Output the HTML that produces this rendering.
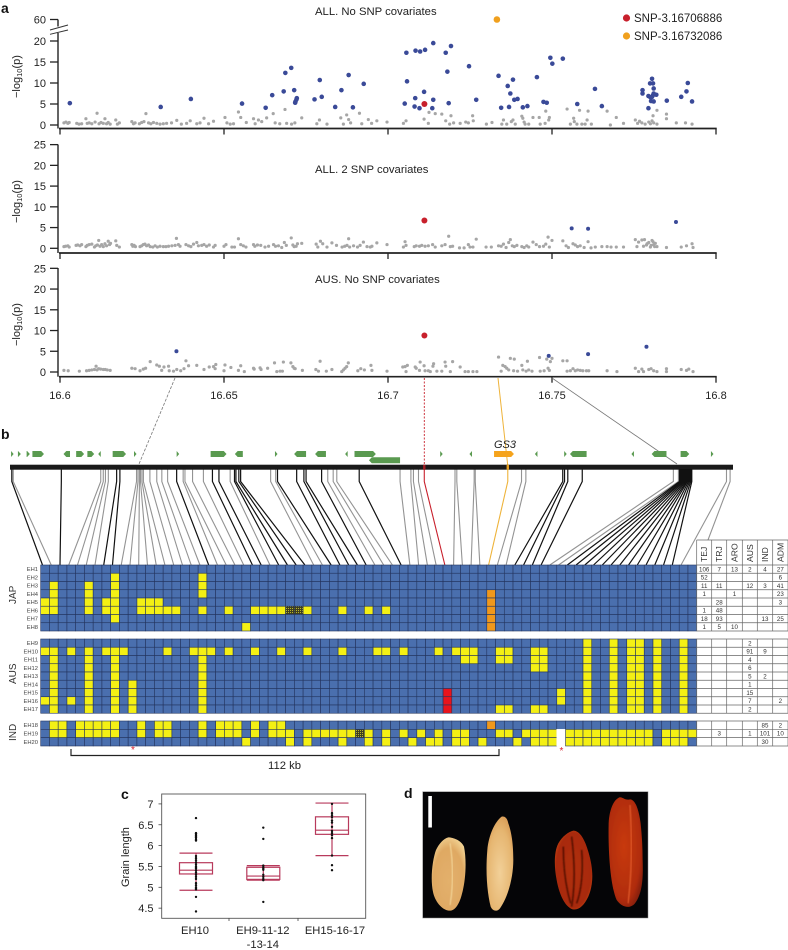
<!DOCTYPE html>
<html lang="en">
<head>
<meta charset="utf-8">
<title>GWAS haplotype figure</title>
<style>
html,body{margin:0;padding:0;background:#fff;}
#figure{display:block;width:788px;height:950px;font-family:"Liberation Sans",sans-serif;filter:blur(.3px);}
text{font-family:"Liberation Sans",sans-serif;fill:#222;}
</style>
</head>
<body>
<svg id="figure" xmlns="http://www.w3.org/2000/svg" width="788" height="950" viewBox="0 0 788 950">
<defs>
<pattern id="hatch" width="2" height="2" patternUnits="userSpaceOnUse"><rect width="2" height="2" fill="#3f3f1e"/><rect width="1" height="1" fill="#b9b52a"/></pattern>
<radialGradient id="paleA" cx="50%" cy="60%" r="65%"><stop offset="0" stop-color="#e3b06c"/><stop offset=".7" stop-color="#dfa963"/><stop offset="1" stop-color="#f3d596"/></radialGradient>
<radialGradient id="paleB" cx="50%" cy="60%" r="65%"><stop offset="0" stop-color="#f2d098"/><stop offset=".7" stop-color="#e6b671"/><stop offset="1" stop-color="#d89a54"/></radialGradient>
<radialGradient id="redA" cx="50%" cy="50%" r="62%"><stop offset="0" stop-color="#b0300e"/><stop offset=".75" stop-color="#a82a0c"/><stop offset="1" stop-color="#cf4c1a"/></radialGradient>
<radialGradient id="redB" cx="45%" cy="45%" r="65%"><stop offset="0" stop-color="#c83a10"/><stop offset=".75" stop-color="#b02c0a"/><stop offset="1" stop-color="#7a1c08"/></radialGradient>
<filter id="soft" x="-10%" y="-10%" width="120%" height="120%"><feGaussianBlur stdDeviation="1.5"/></filter>
<filter id="edge" x="-5%" y="-5%" width="110%" height="110%"><feGaussianBlur stdDeviation=".9"/></filter>
</defs>

<text x="1" y="13" font-size="14" font-weight="bold" style="fill:#111">a</text>
<text x="1" y="439" font-size="14" font-weight="bold" style="fill:#111">b</text>
<text x="121" y="799" font-size="14" font-weight="bold" style="fill:#111">c</text>
<text x="404" y="798" font-size="14" font-weight="bold" style="fill:#111">d</text>

<text x="315" y="15" font-size="11.3">ALL. No SNP covariates</text>
<text x="315" y="173" font-size="11.3">ALL. 2 SNP covariates</text>
<text x="315" y="283" font-size="11.3">AUS. No SNP covariates</text>

<text transform="translate(20 98) rotate(-90)" font-size="11">−log<tspan dy="2" font-size="7.5">10</tspan><tspan dy="-2">(p)</tspan></text>
<text transform="translate(20 223) rotate(-90)" font-size="11">−log<tspan dy="2" font-size="7.5">10</tspan><tspan dy="-2">(p)</tspan></text>
<text transform="translate(20 346) rotate(-90)" font-size="11">−log<tspan dy="2" font-size="7.5">10</tspan><tspan dy="-2">(p)</tspan></text>

<g stroke="#333" stroke-width="1" fill="none">
<path d="M50 30L68 25"/>
<path d="M50 34.3L68 30"/>
</g>

<g>
<circle cx="626.5" cy="18" r="3.6" fill="#c8202c"/>
<text x="634" y="22" font-size="11.5">SNP-3.16706886</text>
<circle cx="626.5" cy="36" r="3.6" fill="#f0a01e"/>
<text x="634" y="40" font-size="11.5">SNP-3.16732086</text>
</g>

<g id="manhattan"></g>

<g fill="none">
<path d="M175 378L139 464" stroke="#777" stroke-width=".8" stroke-dasharray="3 1.5"/>
<path d="M424.3 378V464" stroke="#c8202c" stroke-width=".9" stroke-dasharray="2 1.5"/>
<path d="M498 378L507.7 465" stroke="#eeb33a" stroke-width="1"/>
<path d="M552 378L677 464" stroke="#777" stroke-width=".8"/>
</g>

<g id="connectors"></g>
<g id="genes"></g>
<rect x="10" y="464.7" width="723" height="5" fill="#1a1a1a"/>
<g id="chrMarks"></g>
<text x="494" y="448" font-size="11" font-style="italic">GS3</text>

<text transform="translate(16 604) rotate(-90)" font-size="10" style="fill:#333">JAP</text>
<text transform="translate(16 684) rotate(-90)" font-size="10" style="fill:#333">AUS</text>
<text transform="translate(16 741) rotate(-90)" font-size="10" style="fill:#333">IND</text>

<g id="heatmap"></g>
<g id="table"></g>

<text x="133" y="753" font-size="10" text-anchor="middle" style="fill:#d8202c">*</text>
<text x="561.5" y="754" font-size="10" text-anchor="middle" style="fill:#d8202c">*</text>
<path d="M71 749V755.5H499V749" fill="none" stroke="#222" stroke-width="1.2"/>
<text x="268" y="769" font-size="11.3">112 kb</text>

<g id="boxplot"></g>
<text transform="translate(129 887) rotate(-90)" font-size="11">Grain length</text>

<g>
<rect x="422.7" y="791.7" width="225.3" height="126.3" fill="#050507" stroke="#888" stroke-width=".5"/>
<rect x="428.3" y="796" width="3.6" height="31.5" fill="#fff"/>
<g transform="translate(400 780) scale(.3333)">
<path filter="url(#edge)" d="M145 172C160 172 185 182 192 200C200 240 198 300 185 345C178 372 165 392 150 392C130 392 108 370 100 340C90 300 97 240 108 210C118 190 130 176 145 172Z" fill="url(#paleA)"/>
<path d="M150 190C160 250 160 320 150 375" stroke="#f6dca0" stroke-width="3" fill="none" filter="url(#soft)"/>
<path filter="url(#edge)" d="M305 110C315 108 322 115 325 130C332 150 340 180 340 240C340 290 325 350 300 385C292 396 278 394 272 380C262 340 256 280 262 210C266 165 285 125 305 110Z" fill="url(#paleB)"/>
<path filter="url(#edge)" d="M520 152C540 152 555 180 565 215C580 265 582 310 565 350C552 378 535 392 518 388C495 380 478 345 470 300C462 260 462 215 475 190C488 168 505 156 520 152Z" fill="url(#redA)"/>
<path d="M515 170C525 250 525 320 515 380M490 200C490 270 500 330 512 370M545 210C550 270 545 330 530 370" stroke="#5c1206" stroke-width="5" fill="none" filter="url(#soft)"/>
<path filter="url(#edge)" d="M658 52C668 50 674 62 690 58C705 58 716 85 722 130C726 170 728 200 728 240C730 290 728 340 705 370C690 388 665 382 650 360C632 320 624 220 626 130C628 90 640 60 658 52Z" fill="url(#redB)"/>
<path d="M690 75C696 170 696 280 684 370" stroke="#e0592a" stroke-width="4" fill="none" filter="url(#soft)"/>
</g>
</g>

<script>
// ---------- Manhattan data: [position in kb from 16.6 Mb, -log10(p)] ----------
const positionTicksMb = [16.6, 16.65, 16.7, 16.75, 16.8];
const yTicksTop = [0, 5, 10, 15, 20, 60];
const yTicksLower = [0, 5, 10, 15, 20, 25];

const panel1Significant = [[3.0,5.2],[30.7,4.3],[39.9,6.2],[55.5,5.1],[62.7,4.1],[64.7,7.1],[68.2,8.0],[68.7,12.4],[70.5,13.6],[71.4,8.3],[71.7,5.3],[71.8,5.6],[72.1,6.1],[72.2,6.4],[77.6,6.1],[79.2,10.7],[79.8,6.7],[83.9,4.3],[85.8,8.3],[88,11.9],[89.3,4.2],[92.6,9.8],[105.6,17.2],[105.8,10.4],[105.1,5.1],[108.4,17.7],[109.8,17.5],[111.3,17.9],[113.8,19.5],[117.6,17.2],[119.2,18.8],[118.1,12.7],[124.7,14.0],[111,7.9],[108.3,6.4],[113.8,6.0],[108.1,4.4],[109.6,4.0],[113.5,4.0],[118.5,5.2],[126.9,6.0],[133.7,11.7],[138.1,10.8],[136.5,9.3],[137.3,7.5],[138.5,6.0],[139.5,6.2],[134.5,4.1],[136.9,4.3],[141.1,4.2],[142.5,4.5],[145.4,11.4],[149.5,16.0],[150.1,14.6],[153.3,15.8],[147.4,5.5],[148.4,5.3],[157.7,5.0],[163.1,8.6],[165.2,4.5],[179.4,4.0],[180.5,11.0],[179.9,9.9],[180.8,9.9],[181,8.7],[177.6,8.3],[177.6,7.5],[179.4,6.9],[180.5,6.7],[181,7.5],[181.8,7.2],[180.2,5.7],[181,5.6],[180.8,7.1],[180,6.6],[185,5.8],[189.4,6.7],[191,8.0],[191.4,10.0],[192.7,5.6]];
const panel1Gray = [[1.2,.5],[1.8,.7],[2.4,.4],[2.8,.6],[5.1,.4],[5.8,.2],[6.6,.3],[7.9,1.5],[8.3,.4],[8.9,.5],[9.7,.3],[10.7,.7],[11.3,2.8],[11.9,.3],[12.5,.6],[13.2,.4],[13.7,1.5],[14.2,.3],[14.7,.6],[15.3,.2],[17,1.2],[17.5,.2],[18.1,.5],[21.9,.8],[22.4,.3],[22.9,.5],[24.2,.3],[24.9,.6],[25.6,.8],[26.2,2.7],[27,.5],[27.7,.3],[28.5,.6],[29.5,.4],[30.5,.2],[31.5,.3],[32.5,.4],[34,.5],[35.6,1.1],[37,.2],[38.6,.4],[39.7,1.0],[41.7,.3],[42.7,.5],[43.9,1.6],[45.3,.3],[46.8,.9],[50.3,1.8],[50.9,.5],[51.9,.2],[52.9,.3],[54.4,3.1],[55.1,1.8],[56.8,.6],[59,1.5],[59.5,.3],[60.5,1.2],[61.5,.8],[63,1.7],[65,2.7],[65.6,.5],[67,.3],[68.6,3.7],[69.1,.4],[70.6,.2],[71.6,.5],[73.7,1.7],[78.3,.3],[79.1,1.2],[81.4,.2],[85.6,1.7],[86.4,.2],[87.4,2.4],[88,1.3],[88.6,.5],[91.3,2.8],[92,.3],[94,1.3],[95,.4],[96.6,1],[99.7,.7],[104.7,.4],[105.5,1],[111,1.4],[112.3,.4],[112.5,3],[114.4,2.7],[116.4,2.6],[117.6,1],[118.8,.2],[119.2,2.2],[120,.5],[122,.4],[123.7,.7],[124.5,.5],[125.8,2.2],[126,1],[130,.2],[131.7,.6],[134.7,.2],[135.2,1.2],[136.2,.2],[137.6,.8],[138.1,1.2],[138.8,.2],[140.8,2.1],[141.1,1.6],[141.5,.7],[141.8,.2],[142.9,.2],[144.2,1.8],[146.1,1.8],[146.4,.2],[147.9,.4],[149,1.2],[149.2,1.8],[148.1,3.3],[154.6,3.8],[158.4,3.5],[161,3.3],[166.8,3.3],[155.6,.2],[156.6,1.6],[156.8,.8],[157.6,.2],[159.1,.2],[160.1,.2],[160.7,1.2],[162,.2],[167.8,0],[169.6,1.8],[171.8,.4],[175.4,1.2],[176.1,.4],[176.7,.9],[177.4,.5],[178.4,.2],[179.5,.7],[180,.3],[180.5,1],[181,.5],[182,.2],[180.8,2.2],[182,3.5],[184.9,2.6],[184.9,1.5],[187.9,.5],[190.7,.5],[192.7,.2]];
const panel1Red = [[111.1,5.0]];
const panel1Orange = [[133.2,60]];

const panel2Significant = [[156,4.8],[161,4.7],[187.8,6.35]];
const panel2Gray = [[1.2,.4],[1.7,.5],[2.4,.6],[2.8,.3],[4.9,.7],[5.4,.8],[6.1,.6],[6.6,.9],[7.9,.4],[8.3,.7],[8.9,.9],[9.7,1],[10.5,.3],[10.9,.6],[11.4,.8],[11.8,1.9],[12.2,.5],[12.7,.9],[13.2,.4],[13.7,1.1],[14.2,.6],[14.7,1.7],[15.1,.9],[15.4,1.2],[17,1.8],[17.3,.7],[18.1,.3],[21.9,.9],[22.2,.5],[22.6,.7],[23,.4],[24.4,.4],[24.9,.6],[25.4,.9],[25.9,1],[26.4,.6],[27,.8],[27.5,.4],[28.3,.3],[29,.6],[29.7,.3],[30.5,.5],[31.5,.4],[32.3,.4],[33.1,.5],[34.1,.6],[35.1,.7],[35.5,2.4],[36.1,.9],[36.6,.5],[38.4,.9],[39.2,.6],[39.9,.4],[40.7,1],[41.7,1.4],[42.2,.6],[43.2,.7],[43.9,.9],[44.7,.5],[45.5,.8],[46.8,.3],[47.3,.7],[50,.5],[50.6,.9],[52.4,.3],[53.2,.3],[54.4,2.3],[55.1,.9],[55.9,.6],[56.7,.3],[59,.9],[59.4,.5],[60.2,.8],[61.2,.7],[62.5,.3],[63.6,.5],[65.1,.9],[65.7,.5],[66.6,.6],[67.6,.2],[68.4,1.4],[69,.7],[70.5,2.5],[71,.8],[71.4,.4],[72,.5],[72.4,1.1],[73.7,1.2],[78.1,1],[78.6,.3],[79.4,1.7],[80.1,1.1],[81.4,.3],[82.9,1.3],[84.3,.7],[86,.3],[86.8,.5],[87.5,.7],[88,2.3],[88.3,.3],[89.5,.6],[90.7,.3],[91.5,.7],[92.5,1.5],[93.6,.4],[94.6,.3],[95.1,.5],[96.6,1.3],[99.7,.9],[104.7,.3],[105.2,1.6],[105.5,.7],[108,.4],[108.6,.6],[109.6,.5],[110.3,.7],[111.3,.5],[112.3,.6],[113.6,.9],[114.4,.3],[116.4,.6],[117.4,.9],[118.5,2.9],[119,.4],[119.7,.5],[121.8,.1],[123.2,.1],[124.5,.9],[125,.3],[125.9,.3],[126.9,2.2],[129.9,.3],[131.5,.3],[133.7,.6],[134.5,.5],[135.2,1],[136,.2],[136.8,1.4],[137.3,2.1],[137.9,.6],[138.5,.4],[139.3,.7],[140.8,.4],[141.5,.2],[142.3,.6],[142.9,.3],[144.2,1.5],[145.2,.9],[146.2,.4],[147.4,.5],[148.1,1],[148.8,2.7],[149.2,.3],[150,1.9],[153.3,1.8],[154.3,.6],[155,.2],[156.4,1.1],[157.1,.8],[157.8,.4],[158.6,.6],[159.8,.2],[161,1.6],[161.9,.1],[163.2,.3],[165.2,.4],[166.8,.4],[168,.3],[169.6,.3],[171.8,.3],[175.4,2.1],[175.9,.4],[176.4,1.5],[177.4,2],[177.9,.5],[178.8,.8],[179.5,1.4],[180,.3],[180.5,1.9],[181,.9],[181.5,1.2],[182,.4],[178.2,2.1],[179,1.1],[180.2,.7],[180.8,1.6],[181.3,.4],[184.9,.2],[189.4,.3],[191,.6],[192.7,1.1],[193,.2]];
const panel2Red = [[111.1,6.7]];

const panel3Significant = [[35.5,5],[149,3.9],[161,4.3],[178.8,6.1]];
const panel3Gray = [[1.2,.4],[2.5,.3],[5.9,.2],[8.1,.3],[8.9,.4],[9.7,.5],[10.5,.6],[11,1.4],[11.3,.5],[11.8,.8],[12.4,.7],[13.2,.6],[13.8,.6],[14.4,.5],[15.3,.4],[21.9,.9],[22.9,.8],[24.4,.3],[25.4,.7],[26.1,.9],[27.5,2.5],[29.5,1.7],[30.3,1.4],[31,.4],[31.7,1.2],[33.1,1.4],[33.3,.3],[34.6,.2],[35.6,.6],[36.8,.3],[37.8,.8],[38.4,2.7],[39.2,1.5],[41.7,1.6],[43.9,.6],[45.5,1.2],[46.8,1.3],[47.3,.8],[47.5,1.8],[50,.3],[50.3,1.7],[52.1,1.1],[54.4,.4],[55.1,1.5],[56.2,.1],[59,.9],[59.2,.7],[61,1],[61.3,.6],[63.3,.9],[66.1,.1],[67.1,.2],[67.8,.2],[65.4,2.2],[68.1,2.4],[70.4,2.2],[71,1.3],[71.4,.9],[71.7,.8],[73.9,.4],[78,.6],[78.8,.2],[79.3,2.6],[81.2,.2],[82.9,.6],[85.9,.1],[86.4,.5],[86.9,.9],[87.4,1.3],[87.9,2.2],[90.8,.3],[91.7,.8],[92.8,.5],[94.8,1.6],[95.1,.4],[99.7,.2],[104.5,1.2],[105.2,1.3],[105.9,1.6],[105.5,.1],[108.3,1.2],[108.6,.9],[109.8,2.4],[109.6,.4],[111,1.5],[111.3,.3],[112.3,.3],[112.9,.1],[113.7,1.4],[113.9,2],[114.9,.2],[116.4,.2],[117.4,2.4],[117.6,1.4],[119,.1],[119.7,2.5],[122,1.2],[123.5,.1],[124.5,.1],[125.9,.1],[127.1,.1],[133.7,3.6],[134.5,.2],[135,1.6],[135.7,1.3],[136.2,.9],[136.8,.5],[137.3,3.3],[138.5,3.1],[138.3,.3],[139.5,.2],[140.8,1.6],[141.1,.5],[142.1,.2],[142.5,2.6],[142.9,.5],[143.9,.2],[146.2,3.5],[146.4,.2],[147.6,.3],[148.4,3.1],[148.8,.9],[149.5,2.5],[149.2,.4],[150,3.3],[153.3,2.7],[154.6,2.7],[154.6,.2],[155.6,.3],[156.4,.8],[157.1,.3],[157.8,.5],[158.6,.4],[159.4,.3],[160.5,.3],[161.2,.3],[166.8,.3],[169.8,.1],[175.4,.9],[176.4,.1],[177.4,.7],[177.9,.1],[179.5,.6],[180.2,.8],[181,.3],[182,.1],[184.9,.8],[184.9,.1],[189.4,.6],[191,.4],[191.7,.7],[193,.1]];
const panel3Red = [[111.1,8.8]];

// ---------- Gene map: [startKb, endKb, direction, track] ----------
const geneSpans = [[.3,1,1,0],[2.2,3,1,0],[4.6,5.5,1,0],[6.2,9.4,1,0],[14.8,16.6,-1,0],[18.3,20.5,1,0],[21.4,23.3,1,0],[24.4,25.1,-1,0],[28.4,32.1,1,0],[34.3,35,1,0],[46.1,46.8,1,0],[55.5,59.9,1,0],[62.2,64.4,-1,0],[73.3,74,1,0],[78.6,81.9,-1,0],[84.4,87.4,-1,0],[92.7,93.4,-1,0],[95.3,101.2,1,0],[99.3,107.9,-1,1],[119,119.7,1,0],[127.1,127.8,-1,0],[145.2,145.9,-1,0],[153.3,154,1,0],[154.9,159.5,-1,0],[171.9,172.6,-1,0],[177.5,181.6,-1,0],[185.5,187.9,1,0],[193.9,194.6,1,0]];
const gs3Span = [133.9,139.4,1,0];

// ---------- SNP marker map positions (kb along the 200 kb bar) ----------
const markerMapKb = [.5,.9,14.2,25.1,25.8,26.4,27.2,29.5,30.4,35,35.4,35.8,36.1,36.5,36.9,38.7,40.6,42,43.6,46.1,47.9,48.4,50.5,53.5,56,57.8,60.9,62.1,62.5,63.3,63.8,72.1,73.5,74,79.3,81.3,81.9,86.2,87.9,89.4,90.4,96.6,107.9,110.9,111.6,113,114.6,123.1,123.6,128.4,128.7,137.7,141.5,142.7,152.9,153.4,154.3,158.3,183.5,184.9,185.2,185.5,185.8,186,186.3,186.6,186.9,187.2,187.4,187.7,188,188.3,188.6,198.2,199.2];
const markerClass = "kgkggggkkggggggggggkggggkkgkkkkggkkkkkgggkggggrggggoggkkkkggkkkkkkkkkkkkkgg";

// ---------- Haplotype matrix ----------
const japanicaRows = ["EH1","EH2","EH3","EH4","EH5","EH6","EH7","EH8"];
const ausRows = ["EH9","EH10","EH11","EH12","EH13","EH14","EH15","EH16","EH17"];
const indicaRows = ["EH18","EH19","EH20"];
const yellowCells = {
EH1:[],EH2:[8,18],EH3:[1,5,8,18],EH4:[1,5,8,18],EH5:[0,1,5,7,8,11,12,13],
EH6:[0,1,5,7,8,11,12,13,14,15,18,21,24,25,26,27,30,34,37,39],EH7:[8],EH8:[23],
EH9:[62,65,67,68,70,73],
EH10:[0,1,3,5,7,8,9,14,17,18,19,21,24,27,30,34,38,39,41,45,47,48,49,52,53,56,57,62,65,67,68,70,73],
EH11:[1,5,8,18,48,49,52,53,56,57,62,65,67,68,70,73],
EH12:[1,5,8,18,56,57,62,65,67,68,70,73],
EH13:[1,5,8,18,62,65,67,68,70,73],
EH14:[1,5,8,10,18,62,65,67,68,70,73],
EH15:[1,5,8,10,18,59,62,65,67,68,70,73],
EH16:[0,1,3,5,8,10,18,59,62,65,67,68,70,73],
EH17:[1,5,8,10,18,52,53,56,57,62,65,67,68,70,73],
EH18:[1,2,4,5,6,7,8,11,13,14,18,20,21,22,24,26,27],
EH19:[1,2,4,5,6,7,8,11,13,14,18,20,21,22,24,26,27,28,30,31,32,33,34,35,37,39,41,43,45,47,48,52,53,55,56,57,58,60,61,62,63,64,65,66,67,68,69,71,72,73,74],
EH20:[23,28,30,34,37,39,42,44,45,47,48,50,54,56,57,58,60,61,62,63,64,65,66,67,68,69,71,72,73]
};
const orangeCells = {EH4:[51],EH5:[51],EH6:[51],EH7:[51],EH8:[51],EH18:[51]};
const redCells = {EH15:[46],EH16:[46],EH17:[46]};
const hatchedCells = {EH6:[28,29],EH19:[36]};
const whiteCells = {EH19:[59],EH20:[59]};

// ---------- Count table ----------
const tableHeaders = ["TEJ","TRJ","ARO","AUS","IND","ADM"];
const tableCounts = {
EH1:[106,7,13,2,4,27],EH2:[52,"","","","",6],EH3:[11,11,"",12,3,41],EH4:[1,"",1,"","",23],
EH5:["",28,"","","",3],EH6:[1,48,"","","",""],EH7:[18,93,"","",13,25],EH8:[1,5,10,"","",""],
EH9:["","","",2,"",""],EH10:["","","",91,9,""],EH11:["","","",4,"",""],EH12:["","","",6,"",""],
EH13:["","","",5,2,""],EH14:["","","",1,"",""],EH15:["","","",15,"",""],EH16:["","","",7,"",2],EH17:["","","",2,"",""],
EH18:["","","","",85,2],EH19:["",3,"",1,101,10],EH20:["","","","",30,""]
};

// ---------- Box plot ----------
const boxCategories = [["EH10"],["EH9-11-12","-13-14"],["EH15-16-17"]];
const boxLow = [4.93,5.17,5.76];
const boxQ1 = [5.32,5.19,6.27];
const boxMedian = [5.41,5.27,6.37];
const boxQ3 = [5.59,5.48,6.69];
const boxHigh = [5.82,5.52,7.02];
const grainEH10 = [6.66,6.3,6.28,6.25,6.22,6.19,6.15,6.12,5.75,5.7,5.65,5.6,5.55,5.5,5.47,5.45,5.4,5.35,5.3,5.25,5.2,5.1,5.05,5,4.97,4.95,4.77,4.42];
const grainEH9 = [6.43,6.16,5.52,5.48,5.45,5.42,5.3,5.25,5.2,5.17,4.65];
const grainEH15 = [7,6.78,6.73,6.68,6.6,6.55,6.45,6.35,6.3,6.25,6.18,5.76,5.53,5.41];
const grainTicks = [4.5,5,5.5,6,6.5,7];

// ---------- Helpers ----------
const NS = "http://www.w3.org/2000/svg";
function make(tag, attrs, parent, txt){
  const e = document.createElementNS(NS, tag);
  for (const k in attrs) e.setAttribute(k, attrs[k]);
  if (txt !== undefined) e.textContent = txt;
  parent.appendChild(e);
  return e;
}
const xFromKb = kb => 60 + kb * 3.28;
const xFromMb = mb => xFromKb((mb - 16.6) * 1000);
const yPanel1 = v => v <= 20 ? 125 - v * 4.2 : 41 - (v - 20) * 21.5 / 40;
const yPanel2 = v => 248.3 - v * 4.147;
const yPanel3 = v => 372 - v * 4.147;
const mapX = kb => 10 + kb * 3.615;

// ---------- Manhattan panels ----------
const manhattan = document.getElementById("manhattan");
function drawPanel(name, yFn, ticks, axisY, axisTop, gray, blue, red, orange, blueR){
  const g = make("g", {}, manhattan);
  
  
  gray.forEach(p => {
    const c = make("circle", {cx:xFromKb(p[0]), cy:yFn(p[1]), r:1.6, fill:"#a6a6a6"}, g);
    
    
  });
  blue.forEach(p => {
    const c = make("circle", {cx:xFromKb(p[0]), cy:yFn(p[1]), r:blueR, fill:"#3a4a98"}, g);
    
    
  });
  red.forEach(p => {
    const c = make("circle", {cx:xFromKb(p[0]), cy:yFn(p[1]), r:3, fill:"#c8202c"}, g);
    
    
  });
  orange.forEach(p => {
    const c = make("circle", {cx:xFromKb(p[0]), cy:yFn(p[1]), r:3.3, fill:"#f0a01e"}, g);
    
    
  });
  // y axis
  if (axisTop === null) {
    const a = make("path", {d:"M58 128.5V33M58 26.5V"+yFn(60), stroke:"#222", "stroke-width":1.4, fill:"none"}, g);
    
    
  } else {
    const a = make("line", {x1:58, x2:58, y1:axisY, y2:axisTop, stroke:"#222", "stroke-width":1.4}, g);
    
    
  }
  ticks.forEach(t => {
    const m = make("line", {x1:50, x2:58, y1:yFn(t), y2:yFn(t), stroke:"#222", "stroke-width":1.3}, g);
    
    
    const l = make("text", {x:46, y:yFn(t)+4, "font-size":11, "text-anchor":"end"}, g, String(t));
    
    
  });
  // x axis
  const xa = make("line", {x1:59, x2:716.7, y1:axisY, y2:axisY, stroke:"#222", "stroke-width":1.7}, g);
  
  
  positionTicksMb.forEach(t => {
    const m = make("line", {x1:xFromMb(t), x2:xFromMb(t), y1:axisY, y2:axisY+6, stroke:"#222", "stroke-width":1.3}, g);
    
    
  });
}
drawPanel("panel-1-all-no-covariates", yPanel1, yTicksTop, 128.5, null, panel1Gray, panel1Significant, panel1Red, panel1Orange, 2.3);
drawPanel("panel-2-all-two-covariates", yPanel2, yTicksLower, 253, 144.5, panel2Gray, panel2Significant, panel2Red, [], 2);
drawPanel("panel-3-aus-no-covariates", yPanel3, yTicksLower, 376.7, 268, panel3Gray, panel3Significant, panel3Red, [], 2);
positionTicksMb.forEach(t => {
  const l = make("text", {x:xFromMb(t), y:399, "font-size":11, "text-anchor":"middle"}, manhattan, String(t));
  
  
});

// ---------- Gene track ----------
const genes = document.getElementById("genes");
function genePath(s, color){
  const x0 = mapX(s[0]), x1 = mapX(s[1]), y = s[3] ? 460.3 : 454, h = 3, w = x1 - x0;
  const tip = Math.min(2.8, w);
  let d;
  if (s[2] > 0) d = `M${x0} ${y-h}H${x1-tip}L${x1} ${y}L${x1-tip} ${y+h}H${x0}Z`;
  else d = `M${x1} ${y-h}H${x0+tip}L${x0} ${y}L${x0+tip} ${y+h}H${x1}Z`;
  return make("path", {d:d, fill:color}, genes);
}
geneSpans.forEach(s => {
  const p = genePath(s, "#5a9a50");
  
  
});
const gs3 = genePath(gs3Span, "#f5a31c");



// ---------- Connectors ----------
const connectors = document.getElementById("connectors");
const connectorColors = {k:"#111", g:"#939393", r:"#c8202c", o:"#eeb33a"};
markerMapKb.forEach((kb, i) => {
  const col = i === markerMapKb.length - 1 ? i + 1 : i;
  const c = markerClass[i];
  const bottom = 42.5 + 8.747 * col;
  const p = make("path", {d:`M${mapX(kb)} 469V481.5L${bottom} 565`, fill:"none", stroke:connectorColors[c], "stroke-width":c==="k"?1.2:1.1}, connectors);
  
  
});
const chrMarks = document.getElementById("chrMarks");
const fanBlock = make("rect", {x:mapX(markerMapKb[60]), y:469, width:mapX(markerMapKb[72])-mapX(markerMapKb[60]), height:13, fill:"#111"}, chrMarks);


const redTick = make("rect", {x:mapX(114.6)-1.2, y:464.7, width:2.4, height:5, fill:"#a01c22"}, chrMarks);


const orangeTick = make("rect", {x:mapX(137.7)-1.2, y:464.7, width:2.4, height:5, fill:"#e8a020"}, chrMarks);



// ---------- Heatmap + table ----------
const heatmap = document.getElementById("heatmap");
const table = document.getElementById("table");
const cellW = 8.747;
const tableX = [696.7,711.7,726.7,742.3,757.3,772.7,788];
function fillFor(row, col){
  if ((yellowCells[row]||[]).includes(col)) return "#f4f014";
  if ((orangeCells[row]||[]).includes(col)) return "#f0981c";
  if ((redCells[row]||[]).includes(col)) return "#e8141c";
  if ((hatchedCells[row]||[]).includes(col)) return "url(#hatch)";
  if ((whiteCells[row]||[]).includes(col)) return "#ffffff";
  return "#4a6fae";
}
function drawGroup(rows, top, h){
  rows.forEach((row, r) => {
    const y = top + r * h;
    for (let c = 0; c < 75; c++) {
      const f = fillFor(row, c);
      const cell = make("rect", {x:40.7+c*cellW, y:y, width:cellW, height:h, fill:f, stroke:f==="#ffffff"?"#ffffff":"#24345e", "stroke-width":.6}, heatmap);
      
      
    }
    const lab = make("text", {x:38, y:y+h/2+2, "font-size":5.8, "text-anchor":"end"}, heatmap, row);
    
    
    lab.style.fill = "#444";
    tableCounts[row].forEach((v, c) => {
      if (v === "") return;
      const t = make("text", {x:(tableX[c]+tableX[c+1])/2, y:y+h/2+2.2, "font-size":6.2, "text-anchor":"middle"}, table, String(v));
      
      
      t.style.fill = "#333";
    });
  });
  const bottom = top + rows.length * h;
  for (let r = 0; r <= rows.length; r++) {
    const ln = make("line", {x1:696.7, x2:788, y1:top+r*h, y2:top+r*h, stroke:"#666", "stroke-width":.7}, table);
    
    
  }
  tableX.forEach(x => {
    const ln = make("line", {x1:x, x2:x, y1:top, y2:bottom, stroke:"#666", "stroke-width":.7}, table);
    
    
  });
}
const headerBg = make("rect", {x:696.7, y:540, width:91.3, height:25, fill:"#fff", stroke:"none"}, table);


drawGroup(japanicaRows, 565, 8.25);
drawGroup(ausRows, 639, 8.25);
drawGroup(indicaRows, 721, 8.33);
tableHeaders.forEach((h, c) => {
  const cx = (tableX[c]+tableX[c+1])/2;
  const t = make("text", {transform:`translate(${cx+3} 562) rotate(-90)`, "font-size":8.6}, table, h);
  
  
  t.style.fill = "#333";
});
tableX.forEach(x => {
  const ln = make("line", {x1:x, x2:x, y1:540, y2:565, stroke:"#666", "stroke-width":.7}, table);
  
  
});
const headerTop = make("line", {x1:696.7, x2:788, y1:540, y2:540, stroke:"#666", "stroke-width":.7}, table);



// ---------- Box plot ----------
const box = document.getElementById("boxplot");
const yGrain = v => 887.3 - (v - 5) * 41.7;
const boxCenters = [196, 263.3, 332];
const boxHalf = 16.5;
const crimson = "#b83a5c";
const frame = make("rect", {x:161.7, y:794, width:204, height:124.3, fill:"#fff", stroke:"#555", "stroke-width":.9}, box);


grainTicks.forEach(t => {
  const m = make("line", {x1:158.5, x2:161.7, y1:yGrain(t), y2:yGrain(t), stroke:"#444", "stroke-width":.8}, box);
  
  
  const l = make("text", {x:153.5, y:yGrain(t)+4, "font-size":11, "text-anchor":"end"}, box, String(t));
  
  
});
[229, 298].forEach(x => {
  const m = make("line", {x1:x, x2:x, y1:918.3, y2:921, stroke:"#444", "stroke-width":.8}, box);
  
  
});
boxCategories.forEach((labels, i) => {
  const cx = boxCenters[i];
  const whisker = make("line", {x1:cx, x2:cx, y1:yGrain(boxLow[i]), y2:yGrain(boxHigh[i]), stroke:crimson, "stroke-width":1.2}, box);
  
  
  [boxLow[i], boxHigh[i]].forEach(v => {
    const cap = make("line", {x1:cx-boxHalf, x2:cx+boxHalf, y1:yGrain(v), y2:yGrain(v), stroke:crimson, "stroke-width":1.2}, box);
    
    
  });
  const b = make("rect", {x:cx-boxHalf, y:yGrain(boxQ3[i]), width:boxHalf*2, height:yGrain(boxQ1[i])-yGrain(boxQ3[i]), fill:"none", stroke:crimson, "stroke-width":1.2}, box);
  
  
  const med = make("line", {x1:cx-boxHalf, x2:cx+boxHalf, y1:yGrain(boxMedian[i]), y2:yGrain(boxMedian[i]), stroke:crimson, "stroke-width":1.2}, box);
  
  
  labels.forEach((s, j) => {
    const t = make("text", {x:cx+(i===2?3:i===1?-0.5:-1), y:934+j*14, "font-size":11.2, "text-anchor":"middle"}, box, s);
    
    
  });
});
[grainEH10, grainEH9, grainEH15].forEach((vals, i) => {
  vals.forEach(v => {
    const d = make("circle", {cx:boxCenters[i], cy:yGrain(v), r:1.2, fill:"#111"}, box);
    
    
  });
});
</script>
</svg>
</body>
</html>
